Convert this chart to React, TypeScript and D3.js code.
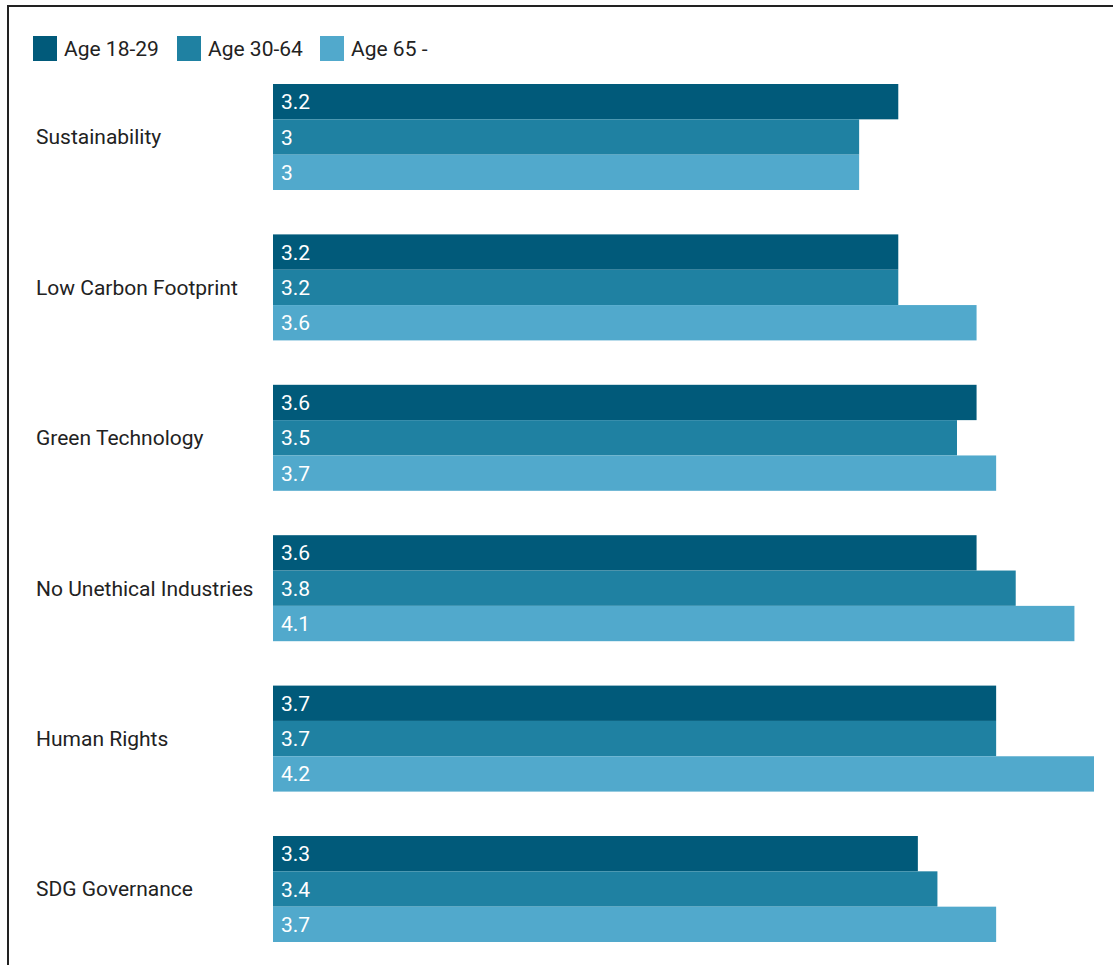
import React from "react";
import * as d3 from "d3";

const categories = [
  "Sustainability",
  "Low Carbon Footprint",
  "Green Technology",
  "No Unethical Industries",
  "Human Rights",
  "SDG Governance",
];
const seriesNames = ["Age 18-29", "Age 30-64", "Age 65 -"];
const age18_29 = [3.2, 3.2, 3.6, 3.6, 3.7, 3.3];
const age30_64 = [3, 3.2, 3.5, 3.8, 3.7, 3.4];
const age65 = [3, 3.6, 3.7, 4.1, 4.2, 3.7];
const colors = ["#015a7a", "#1f81a2", "#51a9cc"];

const W = 1113;
const H = 965;

export default function App() {
  const series = [age18_29, age30_64, age65];
  const x = d3.scaleLinear().domain([0, 4.2]).range([272, 1094]);
  const y0 = d3
    .scaleBand<string>()
    .domain(categories)
    .range([84, 84 + 150.4 * 6])
    .paddingInner(0)
    .paddingOuter(0);
  const bandH = 106;
  const y1 = d3
    .scaleBand<string>()
    .domain(seriesNames)
    .range([0, bandH])
    .padding(0);
  const font = "Roboto, 'Noto Sans', sans-serif";
  const legendX = [33, 177, 320];
  return (
    <svg
      width={W}
      height={H}
      style={{ position: "absolute", left: 0, top: 0, background: "#fff" }}
      fontFamily={font}
    >
      <line x1={7} x2={W} y1={6} y2={6} stroke="#222" strokeWidth={2} />
      <line x1={8} x2={8} y1={6} y2={H} stroke="#222" strokeWidth={2} />
      {seriesNames.map((s, i) => (
        <g key={s}>
          <rect x={legendX[i]} y={36} width={24} height={25} fill={colors[i]} />
          <text x={legendX[i] + 31} y={56} fontSize={21} fill="#222">
            {s}
          </text>
        </g>
      ))}
      {categories.map((c, ci) => {
        const gy = y0(c)!;
        return (
          <g key={c}>
            <text
              x={36}
              y={gy + bandH / 2}
              dy="0.35em"
              fontSize={21}
              fill="#222"
            >
              {c}
            </text>
            {series.map((vals, si) => {
              const by = gy + y1(seriesNames[si])!;
              const bh = y1.bandwidth();
              return (
                <g key={si}>
                  <rect
                    x={x(0) + 1}
                    y={by}
                    width={x(vals[ci]) - x(0) - 1}
                    height={bh}
                    fill={colors[si]}
                  />
                  <text
                    x={281}
                    y={by + bh / 2}
                    dy="0.36em"
                    fontSize={21}
                    fill="#fff"
                  >
                    {String(vals[ci])}
                  </text>
                </g>
              );
            })}
          </g>
        );
      })}
    </svg>
  );
}
